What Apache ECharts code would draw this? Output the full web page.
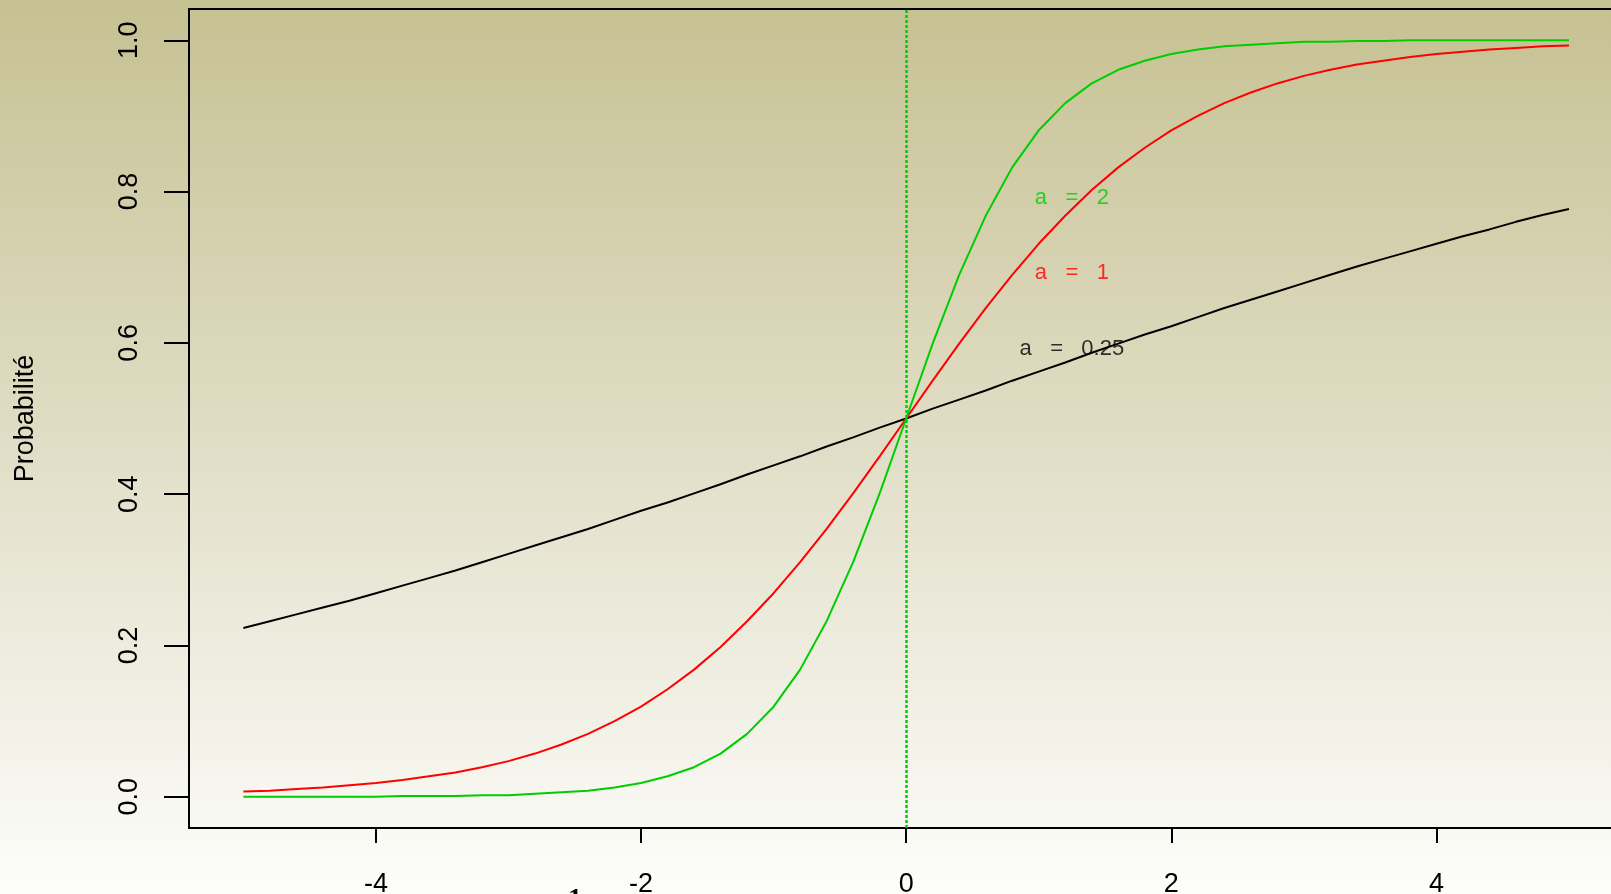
<!DOCTYPE html>
<html>
<head>
<meta charset="utf-8">
<script src="https://cdn.jsdelivr.net/npm/echarts@6/dist/echarts.min.js"></script>
<style>
html,body{margin:0;padding:0;}
#chart{width:1611px;height:894px;}
</style>
</head>
<body>
<div id="chart"></div>
<script>
// x positions
const xs = [-5,-4.8,-4.6,-4.4,-4.2,-4,-3.8,-3.6,-3.4,-3.2,-3,-2.8,-2.6,-2.4,-2.2,-2,-1.8,-1.6,-1.4,-1.2,-1,-0.8,-0.6,-0.4,-0.2,0,
  0.2,0.4,0.6,0.8,1,1.2,1.4,1.6,1.8,2,2.2,2.4,2.6,2.8,3,3.2,3.4,3.6,3.8,4,4.2,4.4,4.6,4.8,5];
// a = 0.25 (black)
const yA025 = [0.223,0.232,0.241,0.250,0.259,0.269,0.279,0.289,0.299,0.310,0.321,0.332,0.343,0.354,0.366,0.378,0.389,0.401,0.413,0.426,0.438,0.450,0.463,0.475,0.488,0.500,
  0.513,0.525,0.537,0.550,0.562,0.574,0.587,0.599,0.611,0.622,0.634,0.646,0.657,0.668,0.679,0.690,0.701,0.711,0.721,0.731,0.741,0.750,0.760,0.769,0.777];
// a = 1 (red)
const yA1 = [0.007,0.008,0.010,0.012,0.015,0.018,0.022,0.027,0.032,0.039,0.047,0.057,0.069,0.083,0.100,0.119,0.142,0.168,0.198,0.232,0.269,0.310,0.354,0.401,0.450,0.500,
  0.550,0.599,0.646,0.690,0.731,0.768,0.802,0.832,0.858,0.881,0.900,0.917,0.931,0.943,0.953,0.961,0.968,0.973,0.978,0.982,0.985,0.988,0.990,0.992,0.993];
// a = 2 (green)
const yA2 = [0.000,0.000,0.000,0.000,0.000,0.000,0.001,0.001,0.001,0.002,0.002,0.004,0.006,0.008,0.012,0.018,0.027,0.039,0.057,0.083,0.119,0.168,0.232,0.310,0.401,0.500,
  0.599,0.690,0.768,0.832,0.881,0.917,0.943,0.961,0.973,0.982,0.988,0.992,0.994,0.996,0.998,0.998,0.999,0.999,1.000,1.000,1.000,1.000,1.000,1.000,1.000];
// tick labels
const xTicks = [-4,-2,0,2,4];
const yTicks = [0,0.2,0.4,0.6,0.8,1.0];
const yTickLabels = ['0.0','0.2','0.4','0.6','0.8','1.0'];
// annotations
const annotTexts = ['a   =   2','a   =   1','a   =   0.25'];
const annotX = [1.25,1.25,1.25];
const annotY = [0.8,0.7,0.6];
const annotColors = ['#00CD00','#FF0000','#000000'];
const vLineX = 0;

const FONT = "'Liberation Sans', Arial, sans-serif";
const chart = echarts.init(document.getElementById('chart'), null, {renderer:'canvas'});

function pairs(ys){ return xs.map((x,i)=>[x, ys[i]]); }

const option = {
  animation: false,
  backgroundColor: {
    type:'linear', x:0, y:0, x2:0, y2:1,
    colorStops:[{offset:0,color:'#C6C192'},{offset:0.5,color:'#E1DEC7'},{offset:1,color:'#FDFDFB'}]
  },
  grid: {left:189, top:9, right:-11, bottom:66, containLabel:false, outerBoundsMode:'none',
    show:true, borderColor:'#000', borderWidth:2, backgroundColor:'transparent'},
  xAxis: {
    type:'value', min:-5.41, max:5.4,
    splitLine:{show:false},
    axisLine:{show:true, onZero:false, lineStyle:{color:'#000', width:2}},
    axisTick:{show:true, length:15, lineStyle:{color:'#000', width:2}, customValues:xTicks},
    axisLabel:{show:true, customValues:xTicks, color:'#000', fontSize:27, fontFamily:FONT, margin:43,
      formatter: v => String(v)}
  },
  yAxis: {
    type:'value', min:-0.0414, max:1.0414,
    name:'Probabilité', nameLocation:'middle', nameRotate:90, nameGap:150,
    nameTextStyle:{color:'#000', fontSize:27, fontFamily:FONT},
    splitLine:{show:false},
    axisLine:{show:true, onZero:false, lineStyle:{color:'#000', width:2}},
    axisTick:{show:true, length:25, lineStyle:{color:'#000', width:2}, customValues:yTicks},
    axisLabel:{show:true, customValues:yTicks, rotate:90, color:'#000', fontSize:27, fontFamily:FONT, margin:46,
      formatter: v => { const i = yTicks.findIndex(t=>Math.abs(t-v)<1e-9); return i>=0 ? yTickLabels[i] : ''; }}
  },
  series: [
    {type:'line', data:pairs(yA025), showSymbol:false, lineStyle:{color:'#000000', width:2}, silent:true},
    {type:'line', data:pairs(yA1), showSymbol:false, lineStyle:{color:'#FF0000', width:2}, silent:true},
    {type:'line', data:pairs(yA2), showSymbol:false, lineStyle:{color:'#00CD00', width:2}, silent:true,
      markLine:{silent:true, symbol:'none', label:{show:false},
        lineStyle:{color:'#00CD00', width:2.5, type:[3,2]},
        data:[{xAxis:vLineX}]}},
    {type:'scatter', symbolSize:0, silent:true,
      data: annotTexts.map((t,i)=>({value:[annotX[i], annotY[i]], name:t,
        label:{color:annotColors[i]}})),
      label:{show:true, position:'inside', fontSize:22, fontFamily:FONT, offset:[0,6],
        formatter: p => p.name}}
  ],
  graphic: [
    {type:'text', left:568, top:886, style:{text:'1', font:"bold 28px 'Liberation Serif', serif", fill:'#000'}}
  ]
};
chart.setOption(option);
</script>
</body>
</html>
